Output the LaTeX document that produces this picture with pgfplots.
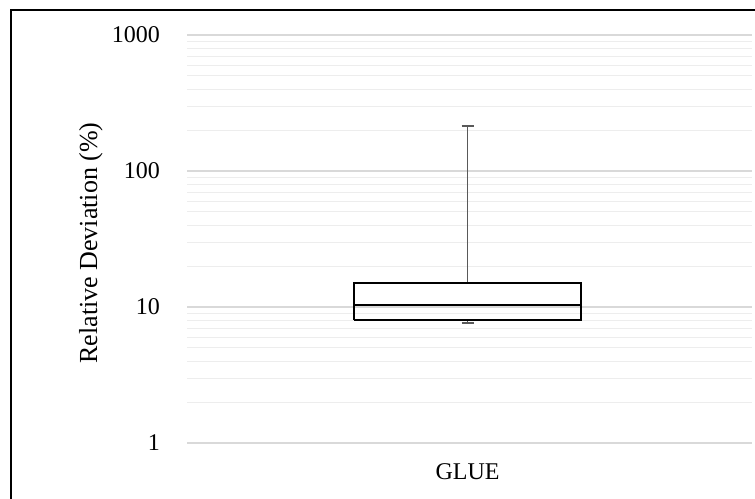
\documentclass[border=0pt]{standalone}
\usepackage{fontspec}
\setmainfont{Liberation Serif}
\usepackage{pgfplots}
\pgfplotsset{compat=1.18}
\definecolor{majgrid}{HTML}{D9D9D9}
\definecolor{mingrid}{HTML}{EDEDED}
\definecolor{whisk}{HTML}{595959}
\begin{document}
\begin{tikzpicture}
\useasboundingbox (0pt,0pt) rectangle (755pt,498pt);
\draw[line width=1.6pt] (11pt,-10pt) rectangle (770pt,488pt);
\begin{axis}[
  at={(187pt,55pt)}, anchor=south west,
  scale only axis, width=565pt, height=408pt,
  xmin=0, xmax=1, ymin=1, ymax=1000, ymode=log,
  ytick={1,10,100,1000}, yticklabels={1,10,100,1000},
  minor ytick={2,3,4,5,6,7,8,9,20,30,40,50,60,70,80,90,200,300,400,500,600,700,800,900},
  xtick={0.4965}, xticklabels={GLUE},
  axis line style={draw=none},
  major tick length=0pt, minor tick length=0pt,
  ymajorgrids, yminorgrids,
  major grid style={majgrid, line width=1.2pt},
  minor grid style={mingrid, line width=1.1pt},
  tick label style={font=\fontsize{24}{28}\selectfont},
  yticklabel style={anchor=east, inner sep=0pt},
  yticklabel shift=27pt,
  xticklabel style={anchor=north, inner sep=0pt},
  xticklabel shift=20pt,
  every axis y label/.style={at={(axis description cs:-0.170,0.490)}, rotate=90, anchor=center, font=\fontsize{26}{30}\selectfont},
  ylabel={Relative Deviation (\%)},
]
% whiskers: lower whisker 7.59, upper whisker 215
\addplot[whisk, line width=1.8pt, mark=none] coordinates {(0.4965,15.1) (0.4965,215)};
\addplot[whisk, line width=1.8pt, mark=none] coordinates {(0.4859,215) (0.5071,215)};
\addplot[whisk, line width=1.8pt, mark=none] coordinates {(0.4965,8.05) (0.4965,7.59)};
\addplot[whisk, line width=1.8pt, mark=none] coordinates {(0.4859,7.59) (0.5071,7.59)};
% box: Q1 8.05, Q3 15.1, median 10.4
\addplot[black, line width=1.8pt, mark=none, line join=miter] coordinates {(0.2955,8.05) (0.6975,8.05) (0.6975,15.1) (0.2955,15.1) (0.2955,8.05)};
\addplot[black, line width=2.2pt, mark=none] coordinates {(0.2955,10.4) (0.6975,10.4)};
\end{axis}
\end{tikzpicture}
\end{document}
